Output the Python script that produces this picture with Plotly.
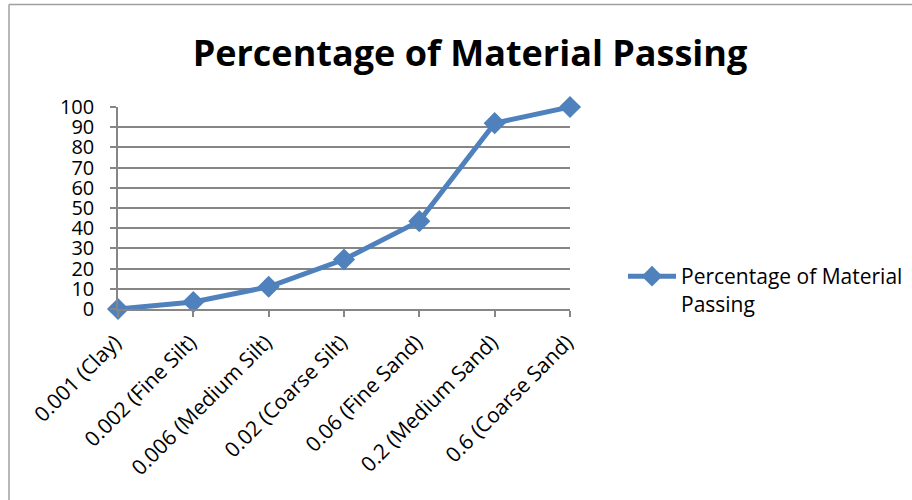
import plotly.graph_objects as go

categories = ["0.001 (Clay)", "0.002 (Fine Silt)", "0.006 (Medium Silt)", "0.02 (Coarse Silt)",
              "0.06 (Fine Sand)", "0.2 (Medium Sand)", "0.6 (Coarse Sand)"]
passing = [0, 3.5, 11, 24.5, 43.5, 92, 100]
y_ticks = [0, 10, 20, 30, 40, 50, 60, 70, 80, 90, 100]
series_name = "Percentage of Material<br>Passing"
title_text = "Percentage of Material Passing"

W, H = 912, 500
L, R, T, B = 118, 570, 107, 309
pw, ph = R - L, B - T

def px(x):
    return (x - L) / pw

def py(y):
    return (B - y) / ph

FONT = "Open Sans"
GRID = "#868686"
BLUE = "#4F81BD"

idx = list(range(len(categories)))

fig = go.Figure()
fig.add_trace(go.Scatter(
    x=idx, y=passing, mode="lines+markers", name=series_name,
    line=dict(color=BLUE, width=5),
    marker=dict(symbol="diamond", size=17, color=BLUE),
    cliponaxis=False,
))

fig.update_layout(
    width=W, height=H,
    margin=dict(l=L, r=W - R, t=T, b=H - B, pad=0, autoexpand=False),
    paper_bgcolor="white", plot_bgcolor="white",
    font=dict(family=FONT, size=20, color="black"),
    title=dict(text="<b>" + title_text + "</b>", x=(192 + 748) / 2 / W, xanchor="center",
               y=1 - 53 / H, yanchor="middle",
               font=dict(family=FONT, size=36, color="black")),
    showlegend=True,
    legend=dict(x=px(623), y=py(290), xanchor="left", yanchor="middle", valign="top",
                font=dict(family=FONT, size=21, color="black"),
                bgcolor="rgba(0,0,0,0)", itemwidth=48, tracegroupgap=0),
    xaxis=dict(range=[0, 6], tickmode="array", tickvals=idx, ticktext=categories,
               tickangle=-45, showgrid=False, showline=True, linecolor=GRID, linewidth=1.5,
               ticks="outside", ticklen=6, tickcolor=GRID, tickwidth=1.5,
               tickfont=dict(family=FONT, size=21, color="black"), zeroline=False,
               ticklabelstandoff=5, ticklabelshift=-3, fixedrange=True),
    yaxis=dict(range=[0, 100], tickmode="array", tickvals=y_ticks,
               showgrid=True, gridcolor=GRID, gridwidth=1.5, showline=True, linecolor=GRID,
               linewidth=1.5, ticks="outside", ticklen=6, tickcolor=GRID, tickwidth=1.5,
               tickfont=dict(family=FONT, size=20, color="black"), zeroline=False,
               ticklabelstandoff=12, fixedrange=True),
)

# chart border (top and left edges visible)
fig.add_shape(type="line", xref="paper", yref="paper", x0=px(9), x1=px(912), y0=py(4.5), y1=py(4.5),
              line=dict(color="#A0A0A0", width=1.5))
fig.add_shape(type="line", xref="paper", yref="paper", x0=px(9), x1=px(9), y0=py(4.5), y1=py(520),
              line=dict(color="#A0A0A0", width=1.5))

fig.write_html("out.html")
